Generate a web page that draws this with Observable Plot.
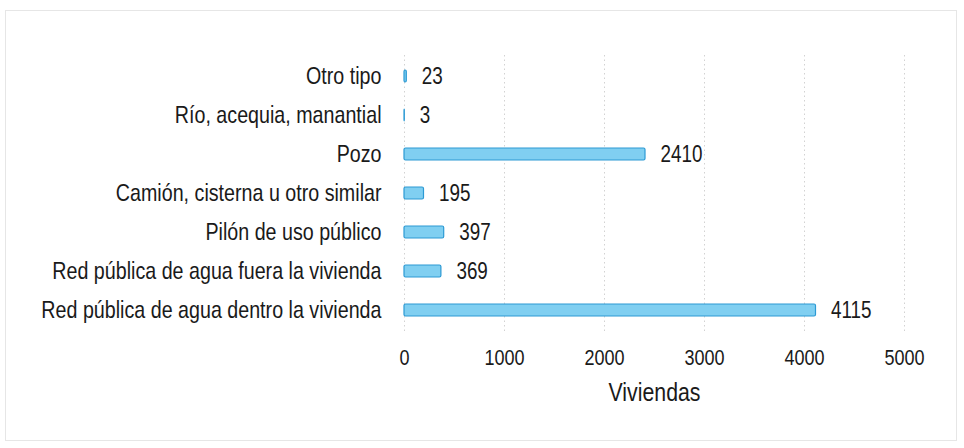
<!DOCTYPE html>
<html><head><meta charset="utf-8">
<script src="https://cdn.jsdelivr.net/npm/d3@7"></script>
<script src="https://cdn.jsdelivr.net/npm/@observablehq/plot@0.6"></script>
<style>
html,body{margin:0;padding:0;background:#fff;}
#wrap{position:absolute;left:5px;top:10px;width:952px;height:431px;border:1px solid #e6e6e6;box-sizing:border-box;}
#chart{position:absolute;left:0;top:0;}
</style></head>
<body>
<div id="wrap"></div>
<div id="chart"></div>
<script>
const categories = [
  "Otro tipo",
  "Río, acequia, manantial",
  "Pozo",
  "Camión, cisterna u otro similar",
  "Pilón de uso público",
  "Red pública de agua fuera la vivienda",
  "Red pública de agua dentro la vivienda"
];
const values = [23, 3, 2410, 195, 397, 369, 4115];
const xTicks = [0, 1000, 2000, 3000, 4000, 5000];
const xTitle = "Viviendas";

const data = categories.map((c, i) => ({cat: c, v: values[i]}));
const font = "'Liberation Sans', Arial, sans-serif";

const chart = Plot.plot({
  width: 964,
  height: 448,
  marginLeft: 404,
  marginRight: 60,
  marginTop: 55,
  marginBottom: 117,
  style: {fontFamily: font, fontSize: "22px", color: "#1a1a1a", background: "transparent", overflow: "visible"},
  x: {domain: [0, 5000], ticks: xTicks, tickFormat: d => String(d), label: null},
  y: {domain: categories, paddingInner: 0.7, paddingOuter: 0.35, label: null},
  marks: [
    Plot.ruleX(xTicks, {stroke: "#d2d2d2", strokeDasharray: "1.5,3", strokeWidth: 1}),
    Plot.barX(data, {x: "v", y: "cat", fill: "#80cff1", stroke: "#2c9ad4", strokeWidth: 1.2, rx: 1.5}),
    Plot.text(data, {x: "v", y: "cat", text: d => String(d.v), textAnchor: "start", dx: 15, fontSize: 23, fill: "#1a1a1a"}),
    Plot.axisY({tickSize: 0, tickPadding: 23, fontSize: 24, label: null}),
    Plot.axisX({ticks: xTicks, tickSize: 0, tickPadding: 18, fontSize: 22, label: null, tickFormat: d => String(d)}),
    Plot.text([xTitle], {frameAnchor: "bottom", dy: 69, fontSize: 26, fill: "#1a1a1a", text: d => d})
  ]
});
// narrow the glyphs horizontally (Arial Narrow look) around each text's anchor
const SX = 0.82;
chart.querySelectorAll("text").forEach(t => {
  const x = parseFloat(t.getAttribute("x") || "0") || 0;
  const tr = t.getAttribute("transform") || "";
  t.setAttribute("transform", `${tr} translate(${x},0) scale(${SX},1) translate(${-x},0)`.trim());
});
document.getElementById("chart").appendChild(chart);
</script>
</body></html>
